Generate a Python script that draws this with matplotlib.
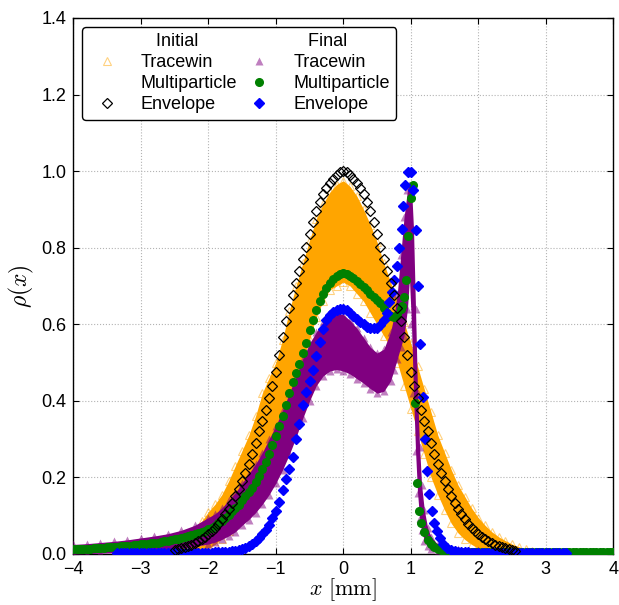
import matplotlib
matplotlib.use('Agg')
import matplotlib.pyplot as plt
import numpy as np
from matplotlib.lines import Line2D
from matplotlib.ticker import FormatStrFormatter

plt.rcParams['font.family'] = ['Liberation Sans', 'DejaVu Sans']
plt.rcParams['mathtext.fontset'] = 'cm'
plt.rcParams['font.size'] = 13

# --- initial envelope (black open diamonds)
env0_x = np.round(np.arange(-2.5, 2.551, 0.05), 3)
env0_y = [0.011, 0.013, 0.015, 0.017, 0.020, 0.024, 0.028, 0.033, 0.038, 0.045,
          0.052, 0.060, 0.069, 0.079, 0.091, 0.104, 0.118, 0.134, 0.151, 0.170,
          0.190, 0.212, 0.235, 0.260, 0.290, 0.320, 0.348, 0.376, 0.408, 0.440,
          0.475, 0.520, 0.566, 0.608, 0.643, 0.676, 0.708, 0.740, 0.770, 0.803,
          0.835, 0.866, 0.895, 0.920, 0.940, 0.955, 0.968, 0.980, 0.990, 0.997,
          1.000,
          0.997, 0.990, 0.980, 0.968, 0.955, 0.940, 0.920, 0.895, 0.866, 0.835,
          0.803, 0.770, 0.740, 0.708, 0.676, 0.643, 0.608, 0.566, 0.520, 0.475,
          0.440, 0.408, 0.376, 0.348, 0.320, 0.290, 0.260, 0.235, 0.212, 0.190,
          0.170, 0.151, 0.134, 0.118, 0.104, 0.091, 0.079, 0.069, 0.060, 0.052,
          0.045, 0.038, 0.033, 0.028, 0.024, 0.020, 0.017, 0.015, 0.013, 0.011,
          0.009]

# --- initial tracewin cloud (orange), lower / upper edge
tw0_x = np.round(np.arange(-2.4, 2.801, 0.1), 3)
tw0_lo = [0.000, 0.002, 0.005, 0.010, 0.015, 0.025, 0.040, 0.060, 0.080, 0.110,
          0.140, 0.170, 0.210, 0.250, 0.290, 0.340, 0.400, 0.450, 0.500, 0.560,
          0.620, 0.660, 0.690, 0.700, 0.710, 0.700, 0.680, 0.660, 0.630, 0.600,
          0.570, 0.540, 0.500, 0.440, 0.380, 0.320, 0.260, 0.200, 0.155, 0.115,
          0.080, 0.055, 0.038, 0.025, 0.015, 0.010, 0.007, 0.005, 0.003, 0.002,
          0.001, 0.000, 0.000]
tw0_hi = [0.020, 0.035, 0.060, 0.085, 0.110, 0.130, 0.155, 0.190, 0.230, 0.270,
          0.310, 0.360, 0.420, 0.460, 0.500, 0.560, 0.635, 0.700, 0.760, 0.820,
          0.875, 0.915, 0.945, 0.965, 0.975, 0.960, 0.935, 0.900, 0.860, 0.815,
          0.760, 0.710, 0.660, 0.605, 0.550, 0.490, 0.430, 0.370, 0.310, 0.265,
          0.220, 0.180, 0.150, 0.120, 0.095, 0.075, 0.058, 0.045, 0.035, 0.026,
          0.019, 0.013, 0.009]

# --- final tracewin cloud (purple), lower / upper edge
tw1_x = [-4.0, -3.8, -3.6, -3.4, -3.2, -3.0, -2.8, -2.6, -2.4, -2.2,
         -2.0, -1.9, -1.8, -1.7, -1.6, -1.5, -1.4, -1.3, -1.2, -1.1,
         -1.0, -0.9, -0.8, -0.7, -0.6, -0.5, -0.4, -0.3, -0.2, -0.1,
         0.0, 0.1, 0.2, 0.3, 0.4, 0.5, 0.6, 0.7, 0.75, 0.8,
         0.85, 0.9, 0.95, 0.98, 1.01, 1.04, 1.07, 1.10, 1.13, 1.16,
         1.20, 1.25, 1.30, 1.40, 1.50, 1.70, 2.00, 2.50, 3.00, 3.50, 4.00]
tw1_lo = [0.000, 0.001, 0.002, 0.003, 0.004, 0.006, 0.008, 0.011, 0.015, 0.020,
          0.026, 0.031, 0.038, 0.047, 0.058, 0.075, 0.090, 0.108, 0.130, 0.155,
          0.185, 0.220, 0.260, 0.305, 0.355, 0.400, 0.440, 0.465, 0.478, 0.482,
          0.478, 0.470, 0.458, 0.446, 0.432, 0.420, 0.425, 0.452, 0.480, 0.510,
          0.540, 0.570, 0.640, 0.720, 0.600, 0.420, 0.270, 0.160, 0.095, 0.062,
          0.035, 0.020, 0.012, 0.006, 0.003, 0.001, 0.000, 0.000, 0.000, 0.000, 0.000]
tw1_hi = [0.025, 0.027, 0.030, 0.033, 0.037, 0.042, 0.047, 0.053, 0.062, 0.075,
          0.095, 0.105, 0.120, 0.140, 0.160, 0.185, 0.210, 0.235, 0.265, 0.300,
          0.335, 0.375, 0.420, 0.465, 0.510, 0.550, 0.580, 0.605, 0.620, 0.630,
          0.625, 0.610, 0.590, 0.565, 0.540, 0.525, 0.535, 0.580, 0.620, 0.680,
          0.780, 0.880, 0.950, 0.965, 0.960, 0.850, 0.640, 0.420, 0.280, 0.180,
          0.115, 0.068, 0.045, 0.025, 0.017, 0.012, 0.010, 0.008, 0.007, 0.006, 0.006]

# --- final multiparticle (green circles)
mp1_x = np.concatenate([np.round(np.arange(-4.0, 0.851, 0.05), 3),
                        [0.87, 0.90, 0.93, 0.96, 1.00, 1.03, 1.06, 1.09, 1.12, 1.15, 1.19],
                        np.round(np.arange(1.25, 4.001, 0.05), 3)])
mp1_y = [0.012, 0.012, 0.013, 0.013, 0.014, 0.014, 0.015, 0.015, 0.016, 0.016,
         0.017, 0.018, 0.018, 0.019, 0.020, 0.020, 0.021, 0.022, 0.023, 0.024,
         0.025, 0.026, 0.027, 0.028, 0.029, 0.030, 0.031, 0.033, 0.035, 0.036,
         0.038, 0.040, 0.042, 0.044, 0.046, 0.049, 0.052, 0.055, 0.058, 0.061,
         0.065, 0.069, 0.074, 0.080, 0.086, 0.093, 0.102, 0.111, 0.120, 0.129,
         0.140, 0.151, 0.162, 0.173, 0.187, 0.204, 0.222, 0.241, 0.262, 0.284,
         0.307, 0.333, 0.360, 0.390, 0.420, 0.448, 0.474, 0.497, 0.525, 0.552,
         0.585, 0.612, 0.638, 0.660, 0.680, 0.695, 0.708, 0.718, 0.725, 0.730,
         0.734, 0.732, 0.727, 0.720, 0.712, 0.705, 0.698, 0.690, 0.680, 0.672,
         0.663, 0.655, 0.642, 0.630, 0.621, 0.619, 0.625, 0.640,
         0.648, 0.672, 0.715, 0.830, 0.930, 0.965, 0.394, 0.185, 0.112, 0.082, 0.058,
         0.036, 0.025, 0.018, 0.013, 0.010, 0.008, 0.007, 0.006, 0.006, 0.005,
         0.005, 0.005, 0.005, 0.005, 0.005, 0.005, 0.005, 0.005,
         0.005, 0.005, 0.005, 0.005, 0.005, 0.005, 0.005, 0.005,
         0.004, 0.004, 0.004, 0.004, 0.004, 0.004, 0.004, 0.004, 0.004, 0.004,
         0.004, 0.004, 0.004, 0.004, 0.004, 0.004, 0.004, 0.004, 0.004, 0.004,
         0.004, 0.004, 0.004, 0.004, 0.004, 0.004, 0.004, 0.004, 0.004, 0.004]

# --- final envelope (blue diamonds)
env1_x = np.concatenate([np.round(np.arange(-3.35, -1.649, 0.05), 3),
                         np.round(np.arange(-1.60, 0.651, 0.05), 3),
                         [0.68, 0.72, 0.75, 0.79, 0.83, 0.865, 0.89, 0.92, 0.96, 1.00,
                          1.04, 1.08, 1.11, 1.14, 1.18, 1.21, 1.24, 1.27, 1.31, 1.35,
                          1.39, 1.43, 1.48, 1.53],
                         np.round(np.arange(1.60, 3.301, 0.05), 3)])
env1_y = [0.002, 0.002, 0.002, 0.002, 0.002, 0.002, 0.002, 0.002, 0.002, 0.002,
          0.002, 0.002, 0.002, 0.002, 0.002, 0.002, 0.002, 0.002, 0.002, 0.002,
          0.003, 0.003, 0.003, 0.003, 0.003, 0.003, 0.003,
          0.003, 0.003, 0.004, 0.004, 0.005, 0.005, 0.006, 0.007,
          0.008, 0.010, 0.013, 0.016, 0.021, 0.026, 0.033, 0.041, 0.051, 0.063,
          0.076, 0.093, 0.111, 0.135, 0.168, 0.197, 0.223, 0.253, 0.300, 0.340,
          0.388, 0.424, 0.452, 0.480, 0.518, 0.555, 0.588, 0.610, 0.624, 0.632,
          0.638, 0.640, 0.640, 0.636, 0.629, 0.622, 0.614, 0.607, 0.600, 0.594,
          0.590, 0.589, 0.590, 0.598, 0.612, 0.630,
          0.657, 0.683, 0.716, 0.753, 0.800, 0.850, 0.910, 0.965, 0.999, 0.999,
          0.950, 0.847, 0.700, 0.549, 0.410, 0.300, 0.218, 0.157, 0.113, 0.082,
          0.061, 0.041, 0.026, 0.015,
          0.010, 0.008, 0.006, 0.005, 0.004, 0.004, 0.003, 0.003, 0.003, 0.003,
          0.003, 0.003, 0.003, 0.003, 0.003, 0.003, 0.003, 0.003, 0.003, 0.003,
          0.003, 0.003, 0.003, 0.003, 0.003, 0.003, 0.003, 0.003, 0.003, 0.003,
          0.003, 0.003, 0.003, 0.003, 0.003]

fig = plt.figure(figsize=(6.19, 6.05), dpi=100)
ax = fig.add_axes([0.1184, 0.0843, 0.8724, 0.8860])

# initial tracewin cloud
ax.fill_between(tw0_x, tw0_lo, tw0_hi, color='orange', lw=0, zorder=2)
h_tw0, = ax.plot(tw0_x, tw0_hi, '^', ms=6, mfc='none', mec='orange', mew=0.8,
                 alpha=0.5, zorder=2.1)
ax.plot(tw0_x, tw0_lo, '^', ms=6, mfc='none', mec='orange', mew=0.8,
        alpha=0.5, zorder=2.1)

# final tracewin cloud
ax.fill_between(tw1_x, tw1_lo, tw1_hi, color='purple', lw=0, zorder=3)
h_tw1, = ax.plot(tw1_x, tw1_hi, '^', ms=6, color='purple', mec='none',
                 alpha=0.5, zorder=3.1)
ax.plot(tw1_x, tw1_lo, '^', ms=6, color='purple', mec='none', alpha=0.5, zorder=3.1)

h_mp1, = ax.plot(mp1_x, mp1_y, 'o', ms=5.5, color='green', mec='green', zorder=4)
h_env1, = ax.plot(env1_x, env1_y, 'D', ms=4.8, color='blue', mec='blue', zorder=5)
h_env0, = ax.plot(env0_x, env0_y, 'D', ms=4.6, mfc='none', mec='black', mew=0.9, zorder=6)

ax.set_xlim(-4, 4)
ax.set_ylim(0, 1.4)
ax.set_xticks(np.arange(-4, 5, 1))
ax.set_yticks(np.arange(0, 1.41, 0.2))
ax.yaxis.set_major_formatter(FormatStrFormatter('%.1f'))
ax.tick_params(direction='in', top=True, right=True, length=4, pad=5, labelsize=13)
ax.grid(True, linestyle=':', color='0.7', linewidth=0.8)
ax.set_axisbelow(True)
for s in ax.spines.values():
    s.set_linewidth(1.0)

ax.set_xlabel(r'$x\ [\mathrm{mm}]$', fontsize=16, labelpad=-1)
ax.set_ylabel(r'$\rho(x)$', fontsize=17, labelpad=4)

blank = Line2D([], [], linestyle='none')
handles = [blank, h_tw0, blank, h_env0, blank, h_tw1, h_mp1, h_env1]
labels = ['   Initial', 'Tracewin', 'Multiparticle', 'Envelope',
          '   Final', 'Tracewin', 'Multiparticle', 'Envelope']
leg = ax.legend(handles, labels, ncol=2, loc='upper left', numpoints=1,
                handlelength=2.0, handletextpad=0.9, columnspacing=0.2,
                labelspacing=0.22, borderpad=0.35, fancybox=True, framealpha=1,
                edgecolor='black', fontsize=13)
leg.get_frame().set_linewidth(1.0)
leg.set_zorder(10)

fig.savefig('out.png', dpi=100)
